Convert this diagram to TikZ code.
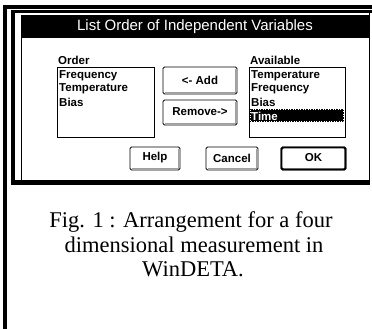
\documentclass[tikz,border=0pt]{standalone}
\usepackage{fontspec}
\setmainfont{Liberation Serif}
\newfontfamily\uisans{Liberation Sans}
\begin{document}
\begin{tikzpicture}[x=1pt,y=-1pt,
  uitext/.style={font=\uisans\bfseries\fontsize{11.5}{13}\selectfont, inner sep=0pt},
  listbox/.style={draw=black, line width=0.8pt, fill=white},
  btnframe/.style={draw=black, line width=0.9pt, rounded corners=1.5pt, fill=white},
  btnshade/.style={draw=gray!75, line width=1.6pt},
  captext/.style={font=\fontsize{22.5}{25}\selectfont, inner sep=0pt, anchor=base},
]
\useasboundingbox (0,0) rectangle (372,329);

% figure frame: heavy left and top rules
\fill[black] (3,5) rectangle (7,329);
\fill[black] (3,5) rectangle (372,9);

% dialog outline
\fill[black] (11,10) rectangle (372,13);
\fill[black] (11,10) rectangle (15,185);
\fill[black] (11,180) rectangle (370,185);
\draw[line width=0.8pt] (21,15) -- (21,180);
\draw[line width=0.8pt] (369,13) -- (369,180);

% title bar
\fill[black] (21,15) rectangle (369,38);
\node[font=\uisans\fontsize{15}{17}\selectfont, text=white, inner sep=0pt] (title) at (195,27)
  {List Order of Independent Variables};

% list captions
\node[uitext, anchor=base west] (lorder) at (58,64) {Order};
\node[uitext, anchor=base west] (lavail) at (250,64) {Available};

% left list
\draw[listbox] (57,67) rectangle (154,137);
\node[uitext, anchor=base west] (o1) at (59,78) {Frequency};
\node[uitext, anchor=base west] (o2) at (59,92) {Temperature};
\node[uitext, anchor=base west] (o3) at (59,106) {Bias};

% right list
\draw[listbox] (249,67) rectangle (345,137);
\node[uitext, anchor=base west] (a1) at (251,78) {Temperature};
\node[uitext, anchor=base west] (a2) at (251,92) {Frequency};
\node[uitext, anchor=base west] (a3) at (251,106) {Bias};
\fill[black] (250,109) rectangle (344,122);
\draw[white, line width=0.5pt, dotted] (250.5,109.5) rectangle (343.5,121.5);
\node[uitext, anchor=base west, text=white] (a4) at (251,120) {Time};

% push buttons
\newcommand{\uibutton}[6]{%
  \draw[btnframe] (#1,#2) rectangle (#3,#4);
  \draw[btnshade] (#1+2,#4-1.6) -- (#3-1.6,#4-1.6) -- (#3-1.6,#2+2);
  \node[uitext] (#5) at ({(#1+#3)/2},{(#2+#4)/2-0.5}) {#6};
}
\uibutton{163}{67}{237}{94}{badd}{<- Add}
\uibutton{163}{100}{237}{125}{bremove}{Remove->}
\uibutton{130}{147}{180}{170}{bhelp}{Help}
\uibutton{206}{147}{258}{170}{bcancel}{Cancel}
\uibutton{281}{147}{346}{170}{bok}{OK}
\draw[black, line width=1.8pt, rounded corners=1.5pt] (281.5,147.5) rectangle (345.5,169.5);

% caption, one node per line
\node[captext] (cap1) at (191,227) {Fig. 1 : Arrangement for a four};
\node[captext] (cap2) at (194,252) {dimensional measurement in};
\node[captext] (cap3) at (193,276) {WinDETA.};
\end{tikzpicture}
\end{document}
